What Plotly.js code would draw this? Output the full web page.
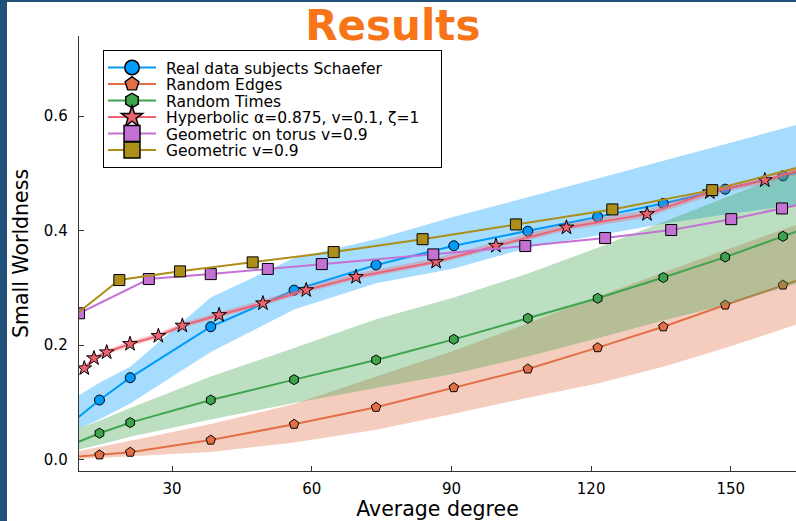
<!DOCTYPE html>
<html><head><meta charset="utf-8">
<script src="https://cdn.plot.ly/plotly-3.0.1.min.js"></script>
<style>
html,body{margin:0;padding:0;background:#21507a;width:796px;height:521px;overflow:hidden}
#chart{position:absolute;left:7px;top:2px;width:789px;height:519px;background:#fff}
</style></head><body><div id="chart"></div>
<script>
// Shared average-degree positions (real data, random edges, random times)
const degree = [7.5, 14.4, 21.0, 38.3, 56.2, 73.8, 90.5, 106.4, 121.4, 135.5, 148.8, 161.2, 173.0];

const realMean = [0.058, 0.104, 0.143, 0.232, 0.296, 0.340, 0.3735, 0.399, 0.424, 0.4475, 0.4724, 0.4957, 0.518];
const realLo   = [0.045, 0.070, 0.098, 0.188, 0.262, 0.308, 0.334, 0.370, 0.392, 0.412, 0.428, 0.442, 0.455];
const realHi   = [0.100, 0.134, 0.162, 0.283, 0.352, 0.385, 0.424, 0.458, 0.491, 0.522, 0.551, 0.578, 0.604];

const edgesMean = [0.0035, 0.0082, 0.0129, 0.034, 0.0617, 0.0914, 0.1257, 0.1583, 0.1955, 0.232, 0.270, 0.305, 0.337];
const edgesLo   = [0.000, 0.002, 0.005, 0.013, 0.030, 0.052, 0.080, 0.108, 0.133, 0.162, 0.195, 0.228, 0.262];
const edgesHi   = [0.011, 0.022, 0.033, 0.062, 0.097, 0.145, 0.190, 0.238, 0.285, 0.327, 0.366, 0.402, 0.435];

const timesMean = [0.023, 0.046, 0.0646, 0.104, 0.1396, 0.174, 0.210, 0.2468, 0.2817, 0.318, 0.3537, 0.390, 0.425];
const timesLo   = [0.013, 0.026, 0.040, 0.070, 0.099, 0.125, 0.150, 0.180, 0.212, 0.243, 0.270, 0.300, 0.330];
const timesHi   = [0.047, 0.068, 0.090, 0.145, 0.195, 0.245, 0.283, 0.325, 0.370, 0.415, 0.458, 0.497, 0.535];

const hypDegree = [11.14, 13.22, 15.95, 20.96, 27.05, 32.2, 40.1, 49.5, 58.8, 69.5, 86.7, 99.55, 114.7, 132.0, 145.5, 157.3, 175.0];
const hypMean   = [0.1595, 0.177, 0.1874, 0.202, 0.216, 0.234, 0.2525, 0.273, 0.296, 0.319, 0.3456, 0.3735, 0.4055, 0.4288, 0.467, 0.488, 0.530];
const hypLo     = [0.156, 0.173, 0.183, 0.198, 0.212, 0.230, 0.248, 0.269, 0.292, 0.314, 0.341, 0.369, 0.400, 0.423, 0.461, 0.482, 0.523];
const hypHi     = [0.163, 0.181, 0.192, 0.207, 0.221, 0.239, 0.258, 0.279, 0.302, 0.325, 0.352, 0.380, 0.413, 0.436, 0.474, 0.495, 0.538];

const torusDegree = [10.0, 25.0, 38.3, 50.55, 62.15, 86.1, 105.85, 123.0, 137.2, 150.1, 161.0, 172.0];
const torusMean   = [0.2555, 0.3154, 0.324, 0.333, 0.3415, 0.3584, 0.373, 0.387, 0.401, 0.420, 0.4387, 0.458];

const geoDegree = [8.0, 18.66, 31.7, 47.3, 64.7, 83.8, 103.85, 124.55, 146.0, 170.0];
const geoMean   = [0.245, 0.3136, 0.3288, 0.3445, 0.3625, 0.385, 0.4108, 0.437, 0.4707, 0.522];

const names = ["Real data subjects Schaefer", "Random Edges", "Random Times",
               "Hyperbolic α=0.875, v=0.1, ζ=1", "Geometric on torus v=0.9", "Geometric v=0.9"];
const xTicks = [30, 60, 90, 120, 150];
const yTicks = [0.0, 0.2, 0.4, 0.6];
const yTickText = ["0.0", "0.2", "0.4", "0.6"];

const colors = ["#009AFA", "#E36F47", "#3EA44E", "#EE6371", "#C371D2", "#AC8E18"];
const fills  = ["rgba(0,154,250,0.35)", "rgba(227,111,71,0.35)", "rgba(62,164,78,0.35)", "rgba(238,99,113,0.35)"];
const symbols = ["circle", "pentagon", "hexagon", "star", "square", "square"];
const sizes = [10, 10, 10, 11, 11, 11];

function ribbon(xs, lo, hi, fill) {
  return {
    x: xs.concat(xs.slice().reverse()),
    y: hi.concat(lo.slice().reverse()),
    type: "scatter", mode: "lines", fill: "toself", fillcolor: fill,
    line: {width: 0, color: fill}, hoverinfo: "skip", showlegend: false
  };
}
function series(i, xs, ys) {
  return {
    x: xs, y: ys, type: "scatter", mode: "lines+markers", name: names[i],
    line: {color: colors[i], width: 2},
    marker: {symbol: symbols[i], size: sizes[i], color: colors[i], line: {color: "#000", width: 1}}
  };
}

const data = [
  ribbon(degree, realLo, realHi, fills[0]), series(0, degree, realMean),
  ribbon(degree, edgesLo, edgesHi, fills[1]), series(1, degree, edgesMean),
  ribbon(degree, timesLo, timesHi, fills[2]), series(2, degree, timesMean),
  ribbon(hypDegree, hypLo, hypHi, fills[3]), series(3, hypDegree, hypMean),
  series(4, torusDegree, torusMean),
  series(5, geoDegree, geoMean)
];

const font = "DejaVu Sans, sans-serif";
const layout = {
  width: 789, height: 519,
  margin: {l: 72, r: 0, t: 34, b: 50},
  paper_bgcolor: "#fff", plot_bgcolor: "#fff",
  font: {family: font, color: "#000", size: 15},
  title: {text: "Results", font: {family: font, size: 42, weight: "bold", color: "#F77418"},
          xref: "container", x: 0.489, xanchor: "center", yref: "container", y: 0.955, yanchor: "middle"},
  showlegend: true,
  legend: {x: 0.0335, y: 0.968, xanchor: "left", yanchor: "top", bgcolor: "#fff", itemwidth: 52,
           bordercolor: "#000", borderwidth: 1, font: {family: font, size: 15.5, color: "#000"}},
  xaxis: {range: [10, 164], tickvals: xTicks, ticks: "inside", ticklen: 5, tickcolor: "#333",
          showline: true, linecolor: "#333", linewidth: 1.3, showgrid: false, zeroline: false,
          automargin: false, tickfont: {size: 15}, ticklabelstandoff: 4,
          title: {text: "Average degree", font: {size: 20.5}, standoff: 9}},
  yaxis: {range: [-0.02, 0.74], tickvals: yTicks, ticktext: yTickText, ticks: "inside", ticklen: 5,
          tickcolor: "#333", showline: true, linecolor: "#333", linewidth: 1.3, showgrid: false,
          zeroline: false, automargin: false, tickfont: {size: 15}, ticklabelstandoff: 7,
          title: {text: "Small Worldness", font: {size: 20.5}, standoff: 9}}
};
Plotly.newPlot("chart", data, layout, {displayModeBar: false, staticPlot: true}).then(function (gd) {
  // tighten legend rows, enlarge legend symbols and widen the box, as in the reference
  const items = Array.from(gd.querySelectorAll(".legend .traces"));
  if (!items.length) return;
  const re = /translate\(\s*([-\d.e]+)[ ,]+([-\d.e]+)\s*\)/;
  const pos = items.map(g => { const m = (g.getAttribute("transform") || "").match(re); return m ? [+m[1], +m[2]] : [0, 0]; });
  const step = 16.5;
  const oldSpan = pos[pos.length - 1][1] - pos[0][1];
  items.forEach((g, i) => {
    g.setAttribute("transform", "translate(" + pos[i][0] + "," + (pos[0][1] + i * step) + ")");
    g.querySelectorAll(".legendlines path").forEach(p => p.setAttribute("d", "M4,0h48"));
    g.querySelectorAll(".legendpoints path.scatterpts").forEach(p => p.setAttribute("transform", "translate(28,0) scale(1.45)"));
  });
  const bg = gd.querySelector(".legend rect.bg");
  if (bg) {
    const h = parseFloat(bg.getAttribute("height"));
    bg.setAttribute("height", h - oldSpan + (items.length - 1) * step);
    const w = parseFloat(bg.getAttribute("width"));
    bg.setAttribute("width", Math.max(w, 338));
  }
});
</script></body></html>
